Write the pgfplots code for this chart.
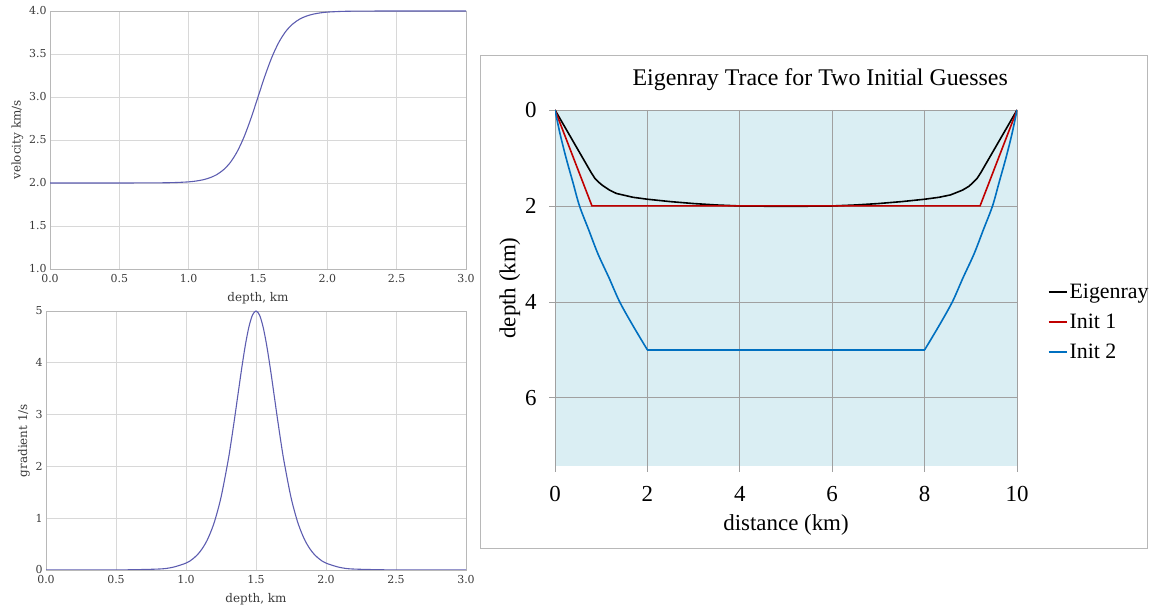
\documentclass[border=0pt]{standalone}
\usepackage{pgfplots}
\pgfplotsset{compat=1.18}
\usepackage{fontspec}
\setmainfont{Liberation Serif}
\newfontfamily\leftfont{DejaVu Serif}

\definecolor{curve}{HTML}{5D5DB0}
\definecolor{ltext}{HTML}{3A3A3A}
\definecolor{lgrid}{HTML}{D8D8D8}
\definecolor{lframe}{HTML}{B8B8B8}
\definecolor{raybg}{HTML}{DAEEF3}
\definecolor{raygrid}{HTML}{A0A0A0}
\definecolor{init1}{HTML}{C00000}
\definecolor{init2}{HTML}{0070C0}

\pgfplotsset{
  leftplot/.style={
    scale only axis, anchor=south west,
    xmin=0, xmax=3, xtick={0,0.5,...,3},
    grid=major, grid style={lgrid, line width=0.6bp},
    axis line style={lframe},
    tick style={draw=none},
    /pgf/number format/assume math mode=true,
    /pgf/number format/fixed, /pgf/number format/precision=1,
    ticklabel style={font=\leftfont\fontsize{11}{12}\selectfont, text=ltext},
    label style={font=\leftfont\fontsize{12}{13}\selectfont, text=ltext},
    xticklabel style={/pgf/number format/fixed zerofill, yshift=-2bp},
    xlabel={depth, km},
    xlabel style={yshift=-3bp},
  },
}

\begin{document}
\begin{tikzpicture}[x=1bp,y=1bp]
\path (0,0) rectangle (1155,610);

% velocity
\begin{axis}[leftplot, at={(50bp,341bp)}, width=416bp, height=258bp,
  ymin=1, ymax=4, ytick={1,1.5,...,4},
  yticklabel style={/pgf/number format/fixed zerofill},
  ylabel={velocity km/s}, ylabel style={yshift=-1bp}]
\addplot[curve, line width=1.1bp, smooth] coordinates {
 (0,2.000) (0.5,2.000) (0.8,2.002) (0.9,2.005) (1.0,2.013) (1.05,2.022)
 (1.1,2.036) (1.15,2.059) (1.2,2.095) (1.25,2.152) (1.3,2.238) (1.35,2.365)
 (1.4,2.538) (1.45,2.755) (1.5,3.000) (1.55,3.245) (1.6,3.462) (1.65,3.635)
 (1.7,3.762) (1.75,3.848) (1.8,3.905) (1.85,3.941) (1.9,3.964) (1.95,3.978)
 (2.0,3.987) (2.1,3.995) (2.2,3.998) (2.5,4.000) (3.0,4.000)
};
\end{axis}

% gradient
\begin{axis}[leftplot, at={(46bp,40bp)}, width=420bp, height=259bp,
  ymin=0, ymax=5, ytick={0,1,...,5},
  yticklabel style={/pgf/number format/precision=0},
  ylabel={gradient 1/s}, ylabel style={yshift=-1bp}]
\addplot[curve, line width=1.1bp, smooth] coordinates {
 (0,0) (0.5,0.001) (0.8,0.018) (0.9,0.049) (1.0,0.133) (1.05,0.217)
 (1.1,0.353) (1.15,0.569) (1.2,0.904) (1.25,1.402) (1.3,2.100) (1.325,2.522)
 (1.35,2.983) (1.375,3.462) (1.4,3.932) (1.425,4.358) (1.45,4.700) (1.475,4.923)
 (1.5,5.000) (1.525,4.923) (1.55,4.700) (1.575,4.358) (1.6,3.932) (1.625,3.462)
 (1.65,2.983) (1.675,2.522) (1.7,2.100) (1.75,1.402) (1.8,0.904) (1.85,0.569)
 (1.9,0.353) (1.95,0.217) (2.0,0.133) (2.1,0.049) (2.2,0.018) (2.5,0.001) (3.0,0)
};
\end{axis}

% eigenray panel frame
\draw[lframe, line width=0.8bp] (480,62) rectangle (1147,555);

\begin{axis}[scale only axis, anchor=south west, at={(555bp,144bp)},
  width=462bp, height=356bp,
  xmin=0, xmax=10, ymin=0, ymax=7.42, y dir=reverse,
  xtick={0,2,...,10}, ytick={0,2,4,6},
  grid=major, grid style={raygrid, line width=0.8bp},
  axis background/.style={fill=raybg},
  axis line style={draw=none},
  xtick pos=left, xticklabel pos=left, ytick pos=left,
  tick align=outside, major tick length=6bp,
  tick style={raygrid, line width=0.8bp},
  /pgf/number format/assume math mode=true,
  ticklabel style={font=\fontsize{23}{26}\selectfont},
  label style={font=\fontsize{23}{26}\selectfont},
  xticklabel style={yshift=-11bp},
  yticklabel style={xshift=-9bp},
  xlabel={distance (km)}, ylabel={depth (km)},
  xlabel style={yshift=-6bp}, ylabel style={yshift=-2bp},
  title={Eigenray Trace for Two Initial Guesses},
  title style={font=\fontsize{24}{26}\selectfont, at={(0.574,1)}, anchor=center, yshift=24bp},
  legend style={at={(1.06,0.404)}, anchor=west, draw=none, fill=none,
    font=\fontsize{22}{24}\selectfont, row sep=10bp,
    /tikz/every odd column/.style={inner sep=0pt}},
  legend cell align=left,
  legend image code/.code={\draw[#1] (0bp,0bp) -- (18bp,0bp);},
]
\addplot[black, line width=1.6bp] coordinates {
 (0,0) (0.78,1.30) (0.86,1.42) (0.95,1.51) (1.04,1.58) (1.18,1.67) (1.33,1.74)
 (1.69,1.82) (2,1.86) (2.5,1.91) (3,1.95) (3.5,1.98) (4,2.0) (5,2.01)
 (6,2.0) (6.5,1.98) (7,1.95) (7.5,1.91) (8,1.86) (8.31,1.82) (8.56,1.77)
 (8.82,1.67) (8.96,1.59) (9.05,1.51) (9.14,1.42) (9.22,1.30) (10,0)
};
\addlegendentry{Eigenray}
\addplot[init1, line width=1.6bp] coordinates {
 (0,0) (0.8,2) (9.2,2) (10,0)
};
\addlegendentry{Init 1}
\addplot[init2, line width=1.6bp, smooth] coordinates {
 (0,0) (0.11,0.5) (0.24,1) (0.385,1.5) (0.53,2) (0.73,2.5) (0.93,3) (1.17,3.5)
 (1.40,4) (1.69,4.5) (2,5)
};
\addlegendentry{Init 2}
\addplot[init2, line width=1.6bp, forget plot] coordinates {(2,5) (8,5)};
\addplot[init2, line width=1.6bp, smooth, forget plot] coordinates {
 (8,5) (8.31,4.5) (8.60,4) (8.83,3.5) (9.07,3) (9.27,2.5) (9.47,2) (9.615,1.5)
 (9.76,1) (9.89,0.5) (10,0)
};
\end{axis}
\end{tikzpicture}
\end{document}
